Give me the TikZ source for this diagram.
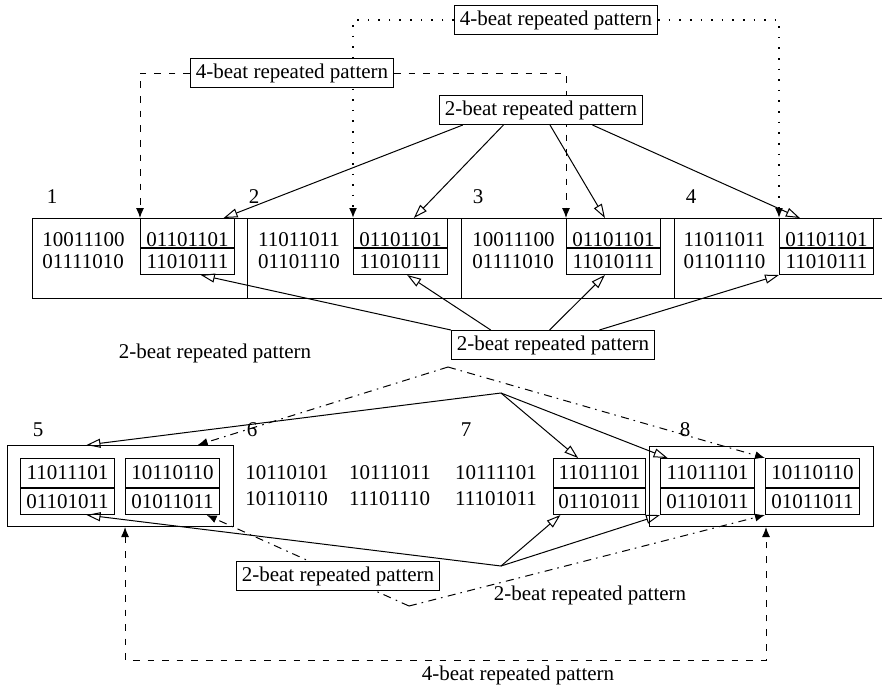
\documentclass[tikz,border=0pt]{standalone}
\usepackage{fontspec}
\setmainfont{Liberation Serif}
\usetikzlibrary{arrows.meta, positioning, calc}

\begin{document}
\begin{tikzpicture}[
        x=0.5pt, y=-0.5pt,
        >={Latex[length=5pt, width=4pt]},
        font=\fontsize{10.5pt}{11pt}\selectfont,
        line width=0.5pt,
        every node/.style={inner sep=0pt},
        tag/.style={draw, fill=white, inner xsep=2.7pt, minimum height=14.5pt},
        half/.style={draw, minimum width=47pt, minimum height=14.5pt},
        bithalf/.style={half, anchor=north west},
        uphalf/.style={bithalf, text height=13.9pt, text depth=0.4pt},
        lowhalf/.style={half, minimum height=13pt},
        group/.style={draw, anchor=north west},
        solidarr/.style={-{Triangle[open, length=7pt, width=4.5pt]}},
        dotarr/.style={->, line width=0.8pt, dash pattern=on 0.8pt off 4.5pt},
        dasharr/.style={->, dash pattern=on 3.3pt off 4pt},
        dashdotarr/.style={->, dash pattern=on 4pt off 2.5pt on 0.8pt off 2.7pt}
    ]
    \useasboundingbox (0,0) rectangle (882,687);

    % upper row of beats
    \draw (882,218) -- (32,218) -- (32,298) -- (882,298);
    \draw (247,218) -- (247,298) (461,218) -- (461,298) (674,218) -- (674,298);

    \node (n1) at (52,197) {1};
    \node (n2) at (254,197) {2};
    \node (n3) at (478,197) {3};
    \node (n4) at (691,197) {4};

    \node[align=left] (w1) at (83.5,251) {10011100\\01111010};
    \node[align=left] (w2) at (299,251) {11011011\\01101110};
    \node[align=left] (w3) at (513.5,251) {10011100\\01111010};
    \node[align=left] (w4) at (724.5,251) {11011011\\01101110};

    \node[uphalf] (t1a) at (140,218) {01101101};
    \node[lowhalf, below=0pt of t1a] (t1b) {11010111};
    \node[uphalf] (t2a) at (353,218) {01101101};
    \node[lowhalf, below=0pt of t2a] (t2b) {11010111};
    \node[uphalf] (t3a) at (566,218) {01101101};
    \node[lowhalf, below=0pt of t3a] (t3b) {11010111};
    \node[uphalf] (t4a) at (779,218) {01101101};
    \node[lowhalf, below=0pt of t4a] (t4b) {11010111};

    % 4-beat links
    \node[tag] (beat4top) at (556,20) {4-beat repeated pattern};
    \draw[dotarr] (beat4top) -| (t2a.north west);
    \draw[dotarr] (beat4top) -| (t4a.north west);

    \node[tag] (beat4mid) at (292,73) {4-beat repeated pattern};
    \draw[dasharr] (beat4mid) -| (t1a.north west);
    \draw[dasharr] (beat4mid) -| (t3a.north west);

    % 2-beat links
    \node[tag] (beat2top) at (541,110) {2-beat repeated pattern};
    \draw[solidarr] ($(beat2top.south west)!0.117!(beat2top.south east)$) -- ($(t1a.north west)!0.88!(t1a.north east)$);
    \draw[solidarr] ($(beat2top.south west)!0.316!(beat2top.south east)$) -- ($(t2a.north west)!0.64!(t2a.north east)$);
    \draw[solidarr] ($(beat2top.south west)!0.544!(beat2top.south east)$) -- ($(t3a.north west)!0.41!(t3a.north east)$);
    \draw[solidarr] ($(beat2top.south west)!0.752!(beat2top.south east)$) -- ($(t4a.north west)!0.22!(t4a.north east)$);

    \node[tag] (beat2low) at (553,345) {2-beat repeated pattern};
    \draw[solidarr] (beat2low.north west) -- ($(t1b.south west)!0.64!(t1b.south east)$);
    \draw[solidarr] ($(beat2low.north west)!0.195!(beat2low.north east)$) -- ($(t2b.south west)!0.57!(t2b.south east)$);
    \draw[solidarr] ($(beat2low.north west)!0.483!(beat2low.north east)$) -- ($(t3b.south west)!0.41!(t3b.south east)$);
    \draw[solidarr] ($(beat2low.north west)!0.727!(beat2low.north east)$) -- (t4b.south west);

    \node (note1) at (215,353) {2-beat repeated pattern};

    % lower row of beats
    \node (n5) at (38,430) {5};
    \node (n6) at (252,430) {6};
    \node (n7) at (466,430) {7};
    \node (n8) at (685,430) {8};

    \node[group, minimum width=113pt, minimum height=40.5pt] (g5) at (7,445) {};
    \node[bithalf] (b5a) at (20,458) {11011101};
    \node[lowhalf, below=0pt of b5a] (b5b) {01101011};
    \node[bithalf] (b6a) at (125,458) {10110110};
    \node[lowhalf, below=0pt of b6a] (b6b) {01011011};

    \node[align=left] (col1) at (287,486) {10110101\\[2pt]10110110};
    \node[align=left] (col2) at (390,486) {10111011\\[2pt]11101110};
    \node[align=left] (col3) at (496,486) {10111101\\[2pt]11101011};

    \node[bithalf, minimum width=46pt] (b7a) at (553,458) {11011101};
    \node[lowhalf, minimum width=46pt, below=0pt of b7a] (b7b) {01101011};

    \node[group, minimum width=112pt, minimum height=40pt] (g8) at (649,446) {};
    \node[bithalf] (b8a) at (660,458) {11011101};
    \node[lowhalf, below=0pt of b8a] (b8b) {01101011};
    \node[bithalf] (b8c) at (765,458) {10110110};
    \node[lowhalf, below=0pt of b8c] (b8d) {01011011};

    \coordinate (sj1) at (501,393);
    \coordinate (dd1) at (448,367);
    \coordinate (sj2) at (501,566);
    \coordinate (dd2) at (409,606);

    \draw[solidarr] (sj1) -- ($(g5.north west)!0.35!(g5.north east)$);
    \draw[solidarr] (sj1) -- ($(b7a.north west)!0.27!(b7a.north east)$);
    \draw[solidarr] (sj1) -- ($(b8a.north west)!0.08!(b8a.north east)$);
    \draw[dashdotarr] (dd1) -- ($(g5.north west)!0.84!(g5.north east)$);
    \draw[dashdotarr] (dd1) -- (b8c.north west);

    \draw[solidarr] (sj2) -- ($(b5b.south west)!0.7!(b5b.south east)$);
    \draw[solidarr] (sj2) -- ($(b7b.south west)!0.08!(b7b.south east)$);
    \draw[solidarr] (sj2) -- (b8b.south west);
    \draw[dashdotarr] (dd2) -- ($(b6b.south west)!0.86!(b6b.south east)$);
    \draw[dashdotarr] (dd2) -- (b8d.south west);

    \node[tag] (beat2bot) at (338,576) {2-beat repeated pattern};
    \node (note2) at (590,595) {2-beat repeated pattern};

    \draw[dasharr, <->] ($(g5.south west)!0.52!(g5.south east)$) -- ++(0,133) -| ($(g8.south west)!0.52!(g8.south east)$);
    \node (note3) at (518,675) {4-beat repeated pattern};
\end{tikzpicture}
\end{document}
